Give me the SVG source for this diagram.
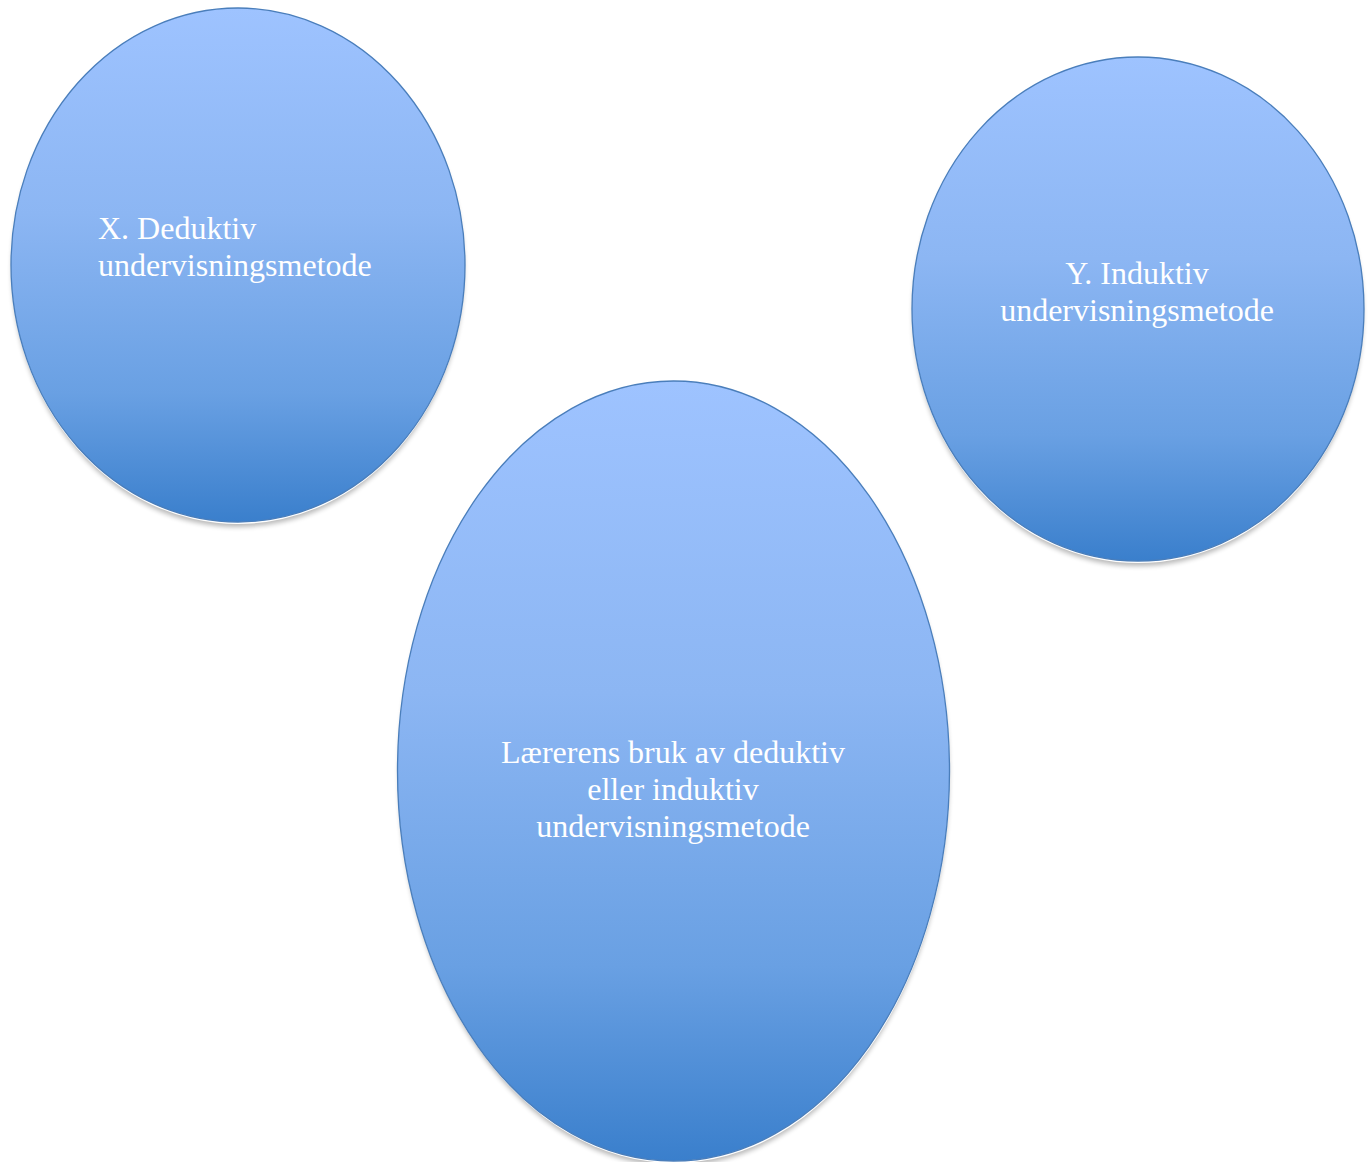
<svg xmlns="http://www.w3.org/2000/svg" width="1369" height="1162" viewBox="0 0 1369 1162">
<defs>
<linearGradient id="g" x1="0" y1="0" x2="0" y2="1">
<stop offset="0" stop-color="#9EC3FF"/>
<stop offset="0.4" stop-color="#8CB6F3"/>
<stop offset="0.75" stop-color="#69A0E3"/>
<stop offset="1" stop-color="#3A7FCC"/>
</linearGradient>
<filter id="sh" x="-10%" y="-10%" width="120%" height="120%">
<feGaussianBlur stdDeviation="2.5"/>
</filter>
<style>
.shadow{fill:#000;opacity:0.28;filter:url(#sh)}
.gap{fill:#fff}
.node{fill:url(#g);stroke:#4A7EBB;stroke-width:1.3}
.lbl{font-family:"Liberation Serif","Times New Roman",serif;font-size:32px;fill:#fff}
</style>
</defs>
<rect width="1369" height="1162" fill="#fff"/>
<g id="connectors"/>
<g id="node-x">
<ellipse class="shadow" cx="238" cy="270" rx="226" ry="257"/>
<ellipse class="gap" cx="238" cy="267" rx="227" ry="257"/>
<ellipse class="node" cx="238" cy="265" rx="227" ry="257"/>
<text class="lbl" x="98" y="239">X. Deduktiv</text>
<text class="lbl" x="98" y="276">undervisningsmetode</text>
</g>
<g id="node-y">
<ellipse class="shadow" cx="1138" cy="314" rx="225" ry="252"/>
<ellipse class="gap" cx="1138" cy="311" rx="226" ry="252"/>
<ellipse class="node" cx="1138" cy="309" rx="226" ry="252"/>
<text class="lbl" x="1137" y="284" text-anchor="middle">Y. Induktiv</text>
<text class="lbl" x="1137" y="321" text-anchor="middle">undervisningsmetode</text>
</g>
<g id="node-main">
<ellipse class="shadow" cx="674" cy="776" rx="275" ry="390"/>
<ellipse class="gap" cx="674" cy="773" rx="276" ry="390"/>
<ellipse class="node" cx="673.5" cy="771" rx="276" ry="390"/>
<text class="lbl" x="673" y="763" text-anchor="middle">Lærerens bruk av deduktiv</text>
<text class="lbl" x="673" y="800" text-anchor="middle">eller induktiv</text>
<text class="lbl" x="673" y="837" text-anchor="middle">undervisningsmetode</text>
</g>
</svg>
